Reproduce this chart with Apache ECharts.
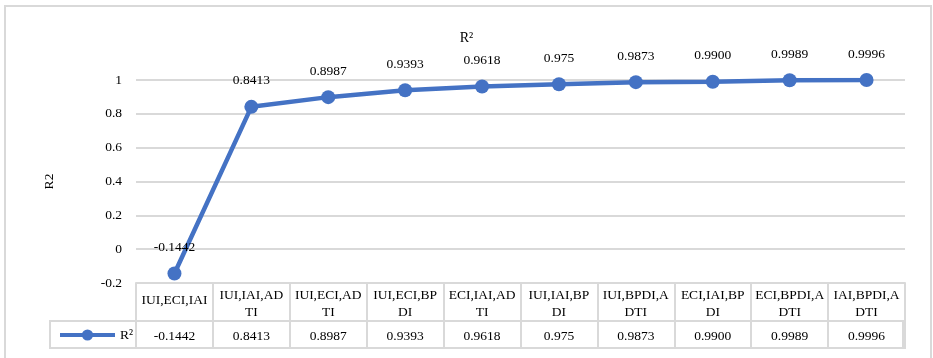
<!DOCTYPE html>
<html>
<head>
<meta charset="utf-8">
<script src="https://cdn.jsdelivr.net/npm/echarts@6/dist/echarts.min.js"></script>
<style>
  html, body { margin: 0; padding: 0; background: #fff; }
  #main { width: 933px; height: 358px; }
</style>
</head>
<body>
<div id="main"></div>
<script>
(function () {
    // 数据
    var categories = ['IUI,ECI,IAI', 'IUI,IAI,ADTI', 'IUI,ECI,ADTI', 'IUI,ECI,BPDI', 'ECI,IAI,ADTI',
        'IUI,IAI,BPDI', 'IUI,BPDI,ADTI', 'ECI,IAI,BPDI', 'ECI,BPDI,ADTI', 'IAI,BPDI,ADTI'];
    var r2Values = [-0.1442, 0.8413, 0.8987, 0.9393, 0.9618, 0.975, 0.9873, 0.9900, 0.9989, 0.9996];
    var r2Labels = ['-0.1442', '0.8413', '0.8987', '0.9393', '0.9618', '0.975', '0.9873', '0.9900', '0.9989', '0.9996'];
    var yTicks = [-0.2, 0, 0.2, 0.4, 0.6, 0.8, 1];

    var font = '"Liberation Serif", "DejaVu Serif", serif';
    var gray = '#d9d9d9';
    var blue = '#4472C4';

    var myChart = echarts.init(document.getElementById('main'));

    // 表格中的类别文字按10个字符换行，单行的垂直居中
    function wrap(s) {
        if (s.length > 11) return s.slice(0, 10) + '\n' + s.slice(10);
        return '{one|' + s + '}';
    }

    option = {
        backgroundColor: '#fff',
        animation: false,
        title: {
            text: 'R²',
            left: 'center',
            top: 26,
            textStyle: { fontFamily: font, fontSize: 14, fontWeight: 'normal', color: '#000' }
        },
        legend: {
            left: 58,
            top: 328,
            padding: 0,
            itemWidth: 55,
            itemHeight: 14,
            lineStyle: { width: 4 },
            textStyle: { fontFamily: font, fontSize: 13.5, color: '#000' },
            data: ['R²']
        },
        grid: { left: 136, right: 28, top: 80, bottom: 75 },
        xAxis: [{
            type: 'category',
            data: categories,
            boundaryGap: true,
            axisLine: { show: true, onZero: false, lineStyle: { color: gray, width: 2 } },
            axisTick: { show: true, length: 66, lineStyle: { color: gray, width: 2 } },
            axisLabel: {
                interval: 0,
                margin: 4,
                fontFamily: font,
                fontSize: 13.5,
                lineHeight: 17,
                color: '#000',
                formatter: wrap,
                rich: {
                    one: { fontFamily: font, fontSize: 13.5, color: '#000', padding: [9, 0, 0, 0] }
                }
            }
        }, {
            type: 'category',
            data: r2Labels,
            position: 'bottom',
            offset: 38,
            boundaryGap: true,
            axisLine: { show: true, onZero: false, lineStyle: { color: gray, width: 2 } },
            axisTick: { show: false },
            axisLabel: {
                interval: 0,
                margin: 8,
                fontFamily: font,
                fontSize: 13.5,
                color: '#000'
            }
        }],
        yAxis: {
            type: 'value',
            min: -0.2,
            max: 1,
            interval: 0.2,
            name: 'R2',
            nameLocation: 'middle',
            nameGap: 80,
            nameRotate: 90,
            nameTextStyle: { fontFamily: font, fontSize: 13.5, color: '#000' },
            axisLine: { show: false },
            axisTick: { show: false },
            axisLabel: {
                margin: 14,
                fontFamily: font,
                fontSize: 13.5,
                color: '#000',
                formatter: function (v) {
                    var r = Math.round(v * 10) / 10;
                    return yTicks.indexOf(r) >= 0 ? String(r) : '';
                }
            },
            splitLine: { lineStyle: { color: gray, width: 2 } }
        },
        series: [{
            name: 'R²',
            type: 'line',
            data: r2Values,
            symbol: 'circle',
            symbolSize: 14,
            lineStyle: { color: blue, width: 4.5 },
            itemStyle: { color: blue },
            label: {
                show: true,
                position: 'top',
                distance: 12,
                fontFamily: font,
                fontSize: 13.5,
                color: '#000',
                formatter: function (p) { return r2Labels[p.dataIndex]; }
            }
        }],
        graphic: [{
            // 外边框
            type: 'rect',
            shape: { x: 5, y: 6, width: 926, height: 360 },
            style: { fill: null, stroke: gray, lineWidth: 2 },
            silent: true
        }, {
            // 表格第二行（含图例单元格）
            type: 'rect',
            shape: { x: 50, y: 321, width: 853, height: 27 },
            style: { fill: null, stroke: gray, lineWidth: 2 },
            silent: true
        }]
    };
    myChart.setOption(option);
})()
</script>
</body>
</html>
